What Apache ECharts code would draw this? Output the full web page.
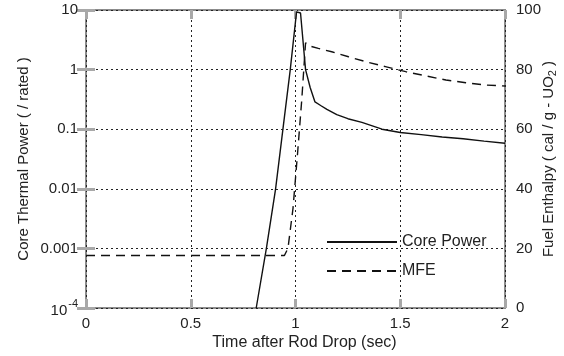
<!DOCTYPE html>
<html>
<head>
<meta charset="utf-8">
<script src="https://cdn.jsdelivr.net/npm/echarts@6/dist/echarts.min.js"></script>
<style>
  html, body { margin: 0; padding: 0; background: #fff; }
  #container { width: 564px; height: 356px; }
</style>
</head>
<body>
<div id="container"></div>
<script>
var dom = document.getElementById("container");
var myChart = echarts.init(dom);

// time after rod drop (sec) and core thermal power (/ rated)
var powerTime = [0.8125, 0.861, 0.905, 0.94, 0.975, 1.005, 1.012, 1.024, 1.048, 1.07, 1.093,
  1.12, 1.15, 1.197, 1.25, 1.317, 1.413, 1.5, 1.6, 1.7, 1.8, 1.9, 2.0];
var powerValue = [0.0001, 0.001, 0.01, 0.1, 1.0, 9.3, 9.8, 8.9, 1.0, 0.5, 0.287,
  0.25, 0.215, 0.175, 0.15, 0.13, 0.1, 0.088, 0.081, 0.074, 0.069, 0.063, 0.058];

// maximum fuel enthalpy (cal/g-UO2)
var mfeTime = [0, 0.947, 0.964, 0.988, 1.01, 1.03, 1.048, 1.063, 1.109, 1.173, 1.253,
  1.333, 1.429, 1.526, 1.622, 1.718, 1.813, 1.91, 2.0];
var mfeValue = [17.6, 17.6, 20, 33.4, 52, 70, 89, 88, 87.1, 86.0, 84.3,
  82.7, 81.0, 79.3, 77.9, 76.5, 75.6, 74.8, 74.5];

var xTickLabels = ["0", "0.5", "1", "1.5", "2"];
var powerTickLabels = ["{b|10}{s|-4}", "0.001", "0.01", "0.1", "1", "10"];
var legendNames = ["Core Power", "MFE"];

var font = "Liberation Sans";
var tickStyle = { color: "#a8a8a8", width: 3 };
var gridLine = { color: "#222", type: [2, 3], width: 1 };

var option = {
  animation: false,
  backgroundColor: "#fff",
  textStyle: { fontFamily: font },
  grid: {
    left: 86,
    right: 59,
    top: 10,
    bottom: 48,
    outerBoundsMode: "none",
    containLabel: false,
    show: true,
    borderColor: "#8c8c8c",
    borderWidth: 2,
  },
  legend: {
    orient: "vertical",
    left: 321,
    top: 229,
    itemWidth: 70,
    itemHeight: 14,
    itemGap: 13,
    itemStyle: { opacity: 0 },
    data: legendNames,
    textStyle: { fontFamily: font, fontSize: 16, color: "#222" },
  },
  xAxis: [
    {
      type: "value",
      min: 0,
      max: 2,
      interval: 0.5,
      name: "Time after Rod Drop (sec)",
      nameLocation: "middle",
      nameGap: 27,
      nameMoveOverlap: false,
      nameTextStyle: { fontFamily: font, fontSize: 16, color: "#222", padding: [0, 0, 0, 18] },
      axisLine: { show: false },
      axisTick: { inside: true, length: 9, lineStyle: tickStyle },
      axisLabel: {
        fontFamily: font,
        fontSize: 15,
        color: "#222",
        margin: 8,
        formatter: function (v) {
          return xTickLabels[Math.round(v / 0.5)];
        },
      },
      splitLine: { show: true, lineStyle: gridLine },
    },
    {
      type: "value",
      position: "top",
      min: 0,
      max: 2,
      interval: 0.5,
      axisLine: { show: false },
      axisTick: { inside: true, length: 9, lineStyle: tickStyle },
      axisLabel: { show: false },
      splitLine: { show: false },
    },
  ],
  yAxis: [
    {
      type: "log",
      logBase: 10,
      min: 0.0001,
      max: 10,
      name: "Core Thermal Power ( / rated )",
      nameLocation: "middle",
      nameRotate: 90,
      nameGap: 55,
      nameMoveOverlap: false,
      nameTextStyle: { fontFamily: font, fontSize: 15, color: "#222" },
      axisLine: { show: false },
      axisTick: { inside: true, length: 9, lineStyle: tickStyle },
      axisLabel: {
        fontFamily: font,
        fontSize: 15,
        color: "#222",
        margin: 8,
        formatter: function (v) {
          return powerTickLabels[Math.round(Math.log10(v)) + 4];
        },
        rich: {
          b: { fontFamily: font, fontSize: 15, color: "#222", lineHeight: 20, verticalAlign: "bottom" },
          s: { fontFamily: font, fontSize: 11, color: "#222", verticalAlign: "top", padding: [0, 0, 0, 1] },
        },
      },
      splitLine: { show: true, lineStyle: gridLine },
    },
    {
      type: "value",
      min: 0,
      max: 100,
      interval: 20,
      position: "right",
      name: "{n|Fuel Enthalpy ( cal / g - UO}{sub|2}{n| )}",
      nameLocation: "middle",
      nameRotate: 90,
      nameGap: 34,
      nameMoveOverlap: false,
      nameTextStyle: {
        fontFamily: font,
        color: "#222",
        rich: {
          n: { fontFamily: font, fontSize: 15, color: "#222" },
          sub: { fontFamily: font, fontSize: 11, color: "#222", padding: [8, 0, 0, 0] },
        },
      },
      axisLine: { show: false },
      axisTick: { inside: true, length: 9, lineStyle: tickStyle },
      axisLabel: { fontFamily: font, fontSize: 15, color: "#222", margin: 11 },
      splitLine: { show: false },
    },
  ],
  series: [
    {
      name: legendNames[0],
      type: "line",
      xAxisIndex: 0,
      yAxisIndex: 0,
      symbol: "none",
      lineStyle: { color: "#111", width: 1.4 },
      itemStyle: { color: "#111" },
      data: powerTime.map(function (t, i) {
        return [t, powerValue[i]];
      }),
    },
    {
      name: legendNames[1],
      type: "line",
      xAxisIndex: 0,
      yAxisIndex: 1,
      symbol: "none",
      lineStyle: { color: "#111", width: 1.4, type: [9, 6] },
      itemStyle: { color: "#111" },
      data: mfeTime.map(function (t, i) {
        return [t, mfeValue[i]];
      }),
    },
  ],
};

myChart.setOption(option);
</script>
</body>
</html>
